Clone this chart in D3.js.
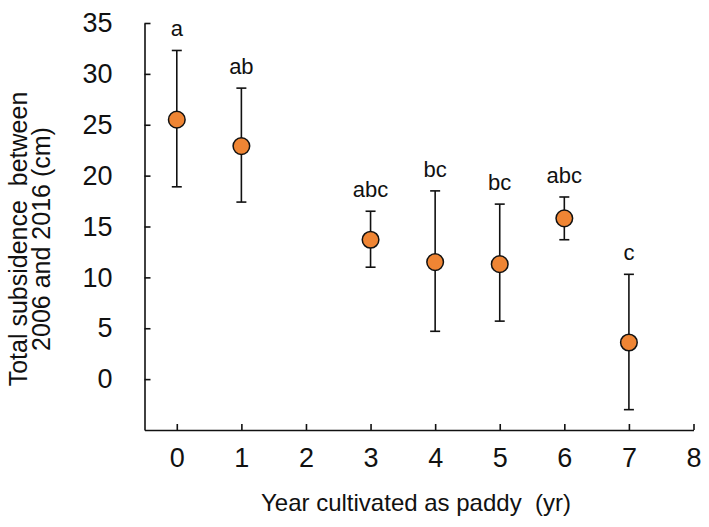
<!DOCTYPE html>
<html>
<head>
<meta charset="utf-8">
<script src="https://d3js.org/d3.v7.min.js"></script>
<style>
  body { margin: 0; background: white; }
  svg text { font-family: "Liberation Sans", Arial, Helvetica, sans-serif; fill: #111; }
</style>
</head>
<body>
<svg id="chart" width="709" height="527"></svg>
<script>
// data
const years  = [0, 1, 3, 4, 5, 6, 7];
const means  = [25.5, 22.9, 13.7, 11.5, 11.3, 15.8, 3.6];
const upper  = [32.3, 28.6, 16.5, 18.5, 17.2, 17.9, 10.3];
const lower  = [18.9, 17.4, 11.0, 4.7, 5.7, 13.7, -3.0];
const groups = ["a", "ab", "abc", "bc", "bc", "abc", "c"];
const yTicks = [0, 5, 10, 15, 20, 25, 30, 35];
const xTicks = [0, 1, 2, 3, 4, 5, 6, 7, 8];

const data = years.map((d, i) => ({year: d, mean: means[i], hi: upper[i], lo: lower[i], g: groups[i]}));

const svg = d3.select("#chart");
const x = d3.scaleLinear([-0.5, 8], [144.5, 693.5]);
const y = d3.scaleLinear([-5, 35], [430, 23]);

// axes
const yAxis = svg.append("g")
    .attr("transform", "translate(144.5,0)")
    .call(d3.axisLeft(y).tickValues(yTicks).tickSizeInner(-6).tickSizeOuter(0).tickPadding(32));
const xAxis = svg.append("g")
    .attr("transform", "translate(0,430)")
    .call(d3.axisBottom(x).tickValues(xTicks).tickSizeInner(-6).tickSizeOuter(0).tickPadding(18));

[xAxis, yAxis].forEach(a => {
  a.selectAll("path, line").attr("stroke", "#111").attr("stroke-width", 1.6);
  a.selectAll("text").style("font-size", "27px").attr("fill", "#111");
});

// error bars
const bars = svg.append("g").selectAll("g").data(data).join("g");
bars.append("line")
    .attr("x1", d => x(d.year)).attr("x2", d => x(d.year))
    .attr("y1", d => y(d.hi)).attr("y2", d => y(d.lo))
    .attr("stroke", "#111").attr("stroke-width", 1.6);
bars.selectAll(".cap").data(d => [[d.year, d.hi], [d.year, d.lo]]).join("line")
    .attr("class", "cap")
    .attr("x1", d => x(d[0]) - 5).attr("x2", d => x(d[0]) + 5)
    .attr("y1", d => y(d[1])).attr("y2", d => y(d[1]))
    .attr("stroke", "#111").attr("stroke-width", 1.6);

// points
svg.append("g").selectAll("circle").data(data).join("circle")
    .attr("cx", d => x(d.year)).attr("cy", d => y(d.mean))
    .attr("r", 8.3)
    .attr("fill", "#ef8534").attr("stroke", "#111").attr("stroke-width", 1.5);

// significance letters
svg.append("g").selectAll("text").data(data).join("text")
    .attr("x", d => x(d.year)).attr("y", d => y(d.hi) - 14)
    .attr("text-anchor", "middle")
    .style("font-size", "22px")
    .text(d => d.g);

// axis titles
svg.append("text")
    .attr("x", 416).attr("y", 511)
    .attr("text-anchor", "middle")
    .style("font-size", "24px")
    .attr("xml:space", "preserve")
    .text("Year cultivated as paddy  (yr)");

const yt = svg.append("text")
    .attr("transform", "translate(27,239) rotate(-90)")
    .attr("text-anchor", "middle")
    .style("font-size", "25px")
    .attr("xml:space", "preserve");
yt.append("tspan").attr("x", 0).attr("y", 0).text("Total subsidence  between");
yt.append("tspan").attr("x", 0).attr("y", 23).text("2006 and 2016 (cm)");
</script>
</body>
</html>
